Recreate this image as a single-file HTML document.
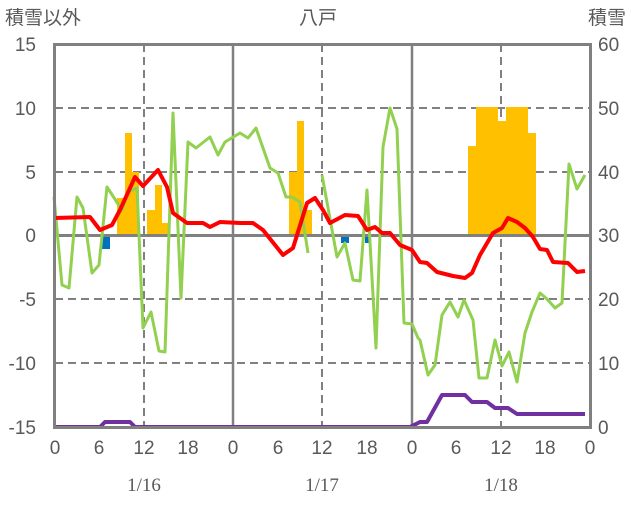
<!DOCTYPE html>
<html><head><meta charset="utf-8"><style>
html,body{margin:0;padding:0;background:#fff;}
svg text{font-family:"Liberation Sans","Noto Sans CJK JP",sans-serif;fill:#595959;}
svg text.d{font-family:"Liberation Serif",serif;}
</style></head><body>
<svg width="636" height="501" viewBox="0 0 636 501" xmlns="http://www.w3.org/2000/svg">
<rect width="636" height="501" fill="#fff"/>
<g stroke="#808080" stroke-width="2" stroke-dasharray="8,5">
<line x1="55" y1="108" x2="590" y2="108"/>
<line x1="55" y1="172" x2="590" y2="172"/>
<line x1="55" y1="299" x2="590" y2="299"/>
<line x1="55" y1="363" x2="590" y2="363"/>
<line x1="144" y1="44" x2="144" y2="427"/>
<line x1="322" y1="44" x2="322" y2="427"/>
<line x1="501" y1="44" x2="501" y2="427"/>
</g>
<g stroke="#808080" stroke-width="2.5">
<line x1="233" y1="44" x2="233" y2="427"/>
<line x1="412" y1="44" x2="412" y2="427"/>
</g>
<g fill="#FFC000">
<rect x="117" y="198" width="8" height="37.5"/>
<rect x="125" y="133" width="7" height="102.5"/>
<rect x="132" y="172" width="7" height="63.5"/>
<rect x="147" y="210" width="8" height="25.5"/>
<rect x="155" y="185" width="7" height="50.5"/>
<rect x="162" y="223" width="6" height="12.5"/>
<rect x="289" y="172" width="8" height="63.5"/>
<rect x="297" y="121" width="7" height="114.5"/>
<rect x="304" y="210" width="8" height="25.5"/>
<rect x="468" y="146" width="8" height="89.5"/>
<rect x="476" y="107" width="22" height="128.5"/>
<rect x="498" y="121" width="8" height="114.5"/>
<rect x="506" y="107" width="22" height="128.5"/>
<rect x="528" y="133" width="8" height="102.5"/>
</g>
<g fill="#0070C0">
<rect x="102" y="236" width="8" height="13"/>
<rect x="341" y="236" width="8" height="7"/>
<rect x="365" y="236" width="6" height="7"/>
</g>
<line x1="55" y1="235.5" x2="590" y2="235.5" stroke="#808080" stroke-width="3"/>
<polyline fill="none" stroke="#92D050" stroke-width="3" stroke-linejoin="round" points="54,197 62,285 69,288 77,197 83,208 92,273 99,265 107,187 122,210 128,192 137,188 143,328 151,312 159,351 165,352 173,113 181,298 188,142 196,148 210,137 218,155 225,142 240,133 248,138 256,128 270,168 278,173 286,197 292,197 300,202 308,253"/>
<polyline fill="none" stroke="#92D050" stroke-width="3" stroke-linejoin="round" points="322,175 337,257 345,243 353,280 360,281 367,190 376,348 383,147 390,108 397,129 404,323 412,324 418,338 420,340 428,375 435,365 442,315 450,302 458,317 464,300 473,320 479,378 487,378 495,340 502,366 509,352 517,382 525,333 532,312 540,293 547,299 555,308 562,303 569,164 577,189 585,175"/>
<polyline fill="none" stroke="#FF0000" stroke-width="4" stroke-linejoin="round" points="55,218 90,217 100,230 112,225 120,210 135,177 143,186 158,170 167,187 173,213 187,223 203,223 210,227 220,222 240,223 253,223 263,230 283,255 293,248 307,203 315,198 323,210 330,223 345,215 358,216 367,230 375,227 382,233 390,233 400,245 412,250 420,262 427,263 437,272 453,276 465,278 472,273 480,255 493,233 502,228 508,218 517,222 525,228 533,237 540,249 547,250 553,262 568,263 577,272 585,271"/>
<polyline fill="none" stroke="#7030A0" stroke-width="4" stroke-linejoin="round" points="55,427 100,427 105,422 130,422 135,427 410,427 420,422 427,422 442,395 465,395 472,402 487,402 495,408 508,408 517,414 585,414"/>
<rect x="54.5" y="44.5" width="536" height="383" fill="none" stroke="#808080" stroke-width="3"/>
<g font-size="19" text-anchor="end">
<text x="36" y="51">15</text><text x="36" y="115">10</text><text x="36" y="179">5</text>
<text x="36" y="242">0</text><text x="36" y="306">-5</text><text x="36" y="370">-10</text><text x="36" y="434">-15</text>
</g>
<g font-size="19" text-anchor="start">
<text x="598" y="51">60</text><text x="598" y="115">50</text><text x="598" y="179">40</text>
<text x="598" y="242">30</text><text x="598" y="306">20</text><text x="598" y="370">10</text><text x="598" y="434">0</text>
</g>
<g font-size="19" text-anchor="middle">
<text x="55" y="454">0</text><text x="99" y="454">6</text><text x="144" y="454">12</text><text x="188" y="454">18</text>
<text x="233" y="454">0</text><text x="278" y="454">6</text><text x="322" y="454">12</text><text x="367" y="454">18</text>
<text x="412" y="454">0</text><text x="456" y="454">6</text><text x="501" y="454">12</text><text x="545" y="454">18</text><text x="590" y="454">0</text>
<text class="d" x="144" y="491">1/16</text>
<text class="d" x="322" y="491">1/17</text>
<text class="d" x="501" y="491">1/18</text>
<text x="318" y="24">八戸</text>
</g>
<text x="5" y="24" font-size="19">積雪以外</text>
<text x="588" y="24" font-size="19">積雪</text>
</svg>
</body></html>
